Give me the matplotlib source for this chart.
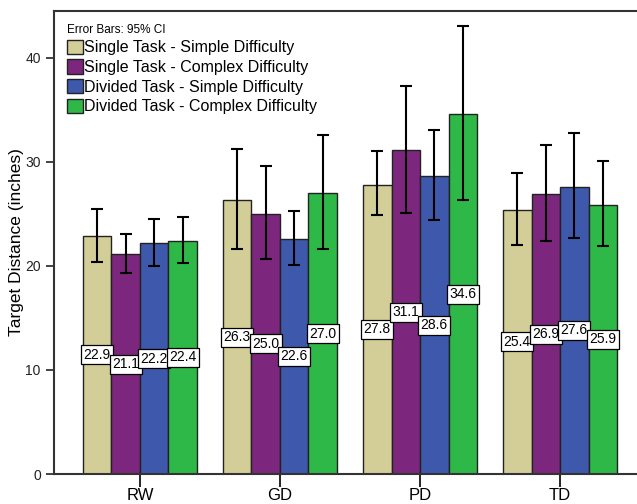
import matplotlib.pyplot as plt
import matplotlib.patches as mpatches
import numpy as np

plt.rcParams['font.family'] = ['Liberation Sans', 'DejaVu Sans']

categories = ['RW', 'GD', 'PD', 'TD']
series = ['Single Task - Simple Difficulty', 'Single Task - Complex Difficulty',
          'Divided Task - Simple Difficulty', 'Divided Task - Complex Difficulty']
colors = ['#D3CE97', '#7D267D', '#3E58AC', '#2EB848']

means = [[22.9, 26.3, 27.8, 25.4],
         [21.1, 25.0, 31.1, 26.9],
         [22.2, 22.6, 28.6, 27.6],
         [22.4, 27.0, 34.6, 25.9]]
ci_low = [[20.4, 21.6, 24.9, 22.0],
          [19.3, 20.7, 25.1, 22.4],
          [20.0, 20.1, 24.4, 22.7],
          [20.3, 21.6, 26.3, 21.9]]
ci_high = [[25.5, 31.2, 31.0, 28.9],
           [23.1, 29.6, 37.3, 31.6],
           [24.5, 25.3, 33.1, 32.8],
           [24.7, 32.6, 43.1, 30.1]]

fig = plt.figure(figsize=(6.37, 5.04), dpi=100)
ax = fig.add_axes([54/637, 30/504, 592/637, 463/504])

x = np.arange(len(categories))
w = 0.2036
for i in range(4):
    xs = x + (i - 1.5) * w
    m = np.array(means[i])
    ax.bar(xs, m, width=w, color=colors[i], edgecolor='#222222', linewidth=1.0, zorder=2)
    err = [m - np.array(ci_low[i]), np.array(ci_high[i]) - m]
    ax.errorbar(xs, m, yerr=err, fmt='none', ecolor='black', elinewidth=1.5,
                capsize=4, capthick=1.5, zorder=3)
    for xi, v in zip(xs, m):
        ax.text(xi, v / 2, '%.1f' % v, ha='center', va='center', fontsize=10, zorder=4,
                bbox=dict(boxstyle='square,pad=0.18', fc='white', ec='black', lw=0.9))

ax.set_xlim(-0.614, 3.614)
ax.set_ylim(0, 44.5)
ax.set_yticks([0, 10, 20, 30, 40])
ax.set_xticks(x)
ax.set_xticklabels(categories, fontsize=12)
ax.tick_params(axis='y', direction='out', length=6, width=1.2, labelsize=10, colors='#222222')
ax.tick_params(axis='x', direction='out', length=9, width=1.2, pad=1)
ax.set_ylabel('Target Distance (inches)', fontsize=12.5, labelpad=1)
ax.spines['right'].set_visible(False)
for s in ['left', 'top', 'bottom']:
    ax.spines[s].set_linewidth(1.5)
    ax.spines[s].set_color('#333333')

handles = [mpatches.Patch(facecolor=c, edgecolor='#222222', linewidth=1.0) for c in colors]
leg = ax.legend(handles, series, loc='upper left', bbox_to_anchor=(0.0, 1.0),
                frameon=False, fontsize=11.5, handlelength=1.0, handleheight=1.0,
                handletextpad=0.1, labelspacing=0.25, borderaxespad=0.4,
                title='Error Bars: 95% CI', title_fontsize=8.5, alignment='left')

fig.savefig('out.png', dpi=100)
